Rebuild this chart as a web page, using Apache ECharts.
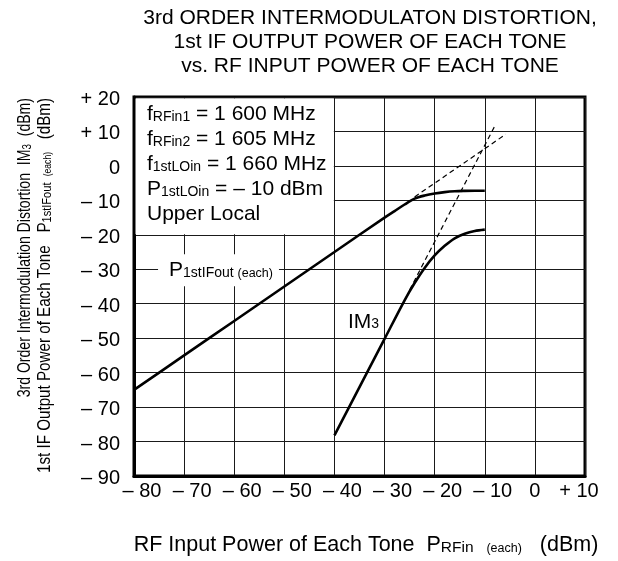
<!DOCTYPE html>
<html><head><meta charset="utf-8">
<script src="https://cdn.jsdelivr.net/npm/echarts/dist/echarts.min.js"></script>
<style>html,body{margin:0;padding:0;background:#fff}#c{width:618px;height:561px}</style>
</head><body><div id="c"></div>
<script>
// ---------- data ----------
const titleLines = ['3rd ORDER INTERMODULATON DISTORTION,', '1st IF OUTPUT POWER OF EACH TONE', 'vs. RF INPUT POWER OF EACH TONE'];
const xTickValues = [-80, -70, -60, -50, -40, -30, -20, -10, 0, 10];
const xTickLabels = ['– 80', '– 70', '– 60', '– 50', '– 40', '– 30', '– 20', '– 10', '0', '+ 10'];
const yTickValues = [-90, -80, -70, -60, -50, -40, -30, -20, -10, 0, 10, 20];
const yTickLabels = ['– 90', '– 80', '– 70', '– 60', '– 50', '– 40', '– 30', '– 20', '– 10', '0', '+ 10', '+ 20'];

// P1stIFout (each) vs PRFin (each)
const pOutX = [-80, -70, -60, -50, -40, -30, -28, -26, -24, -22, -20, -18, -16, -14, -12, -10];
const pOutY = [-65, -55, -45, -35, -25, -15, -13.1, -11.2, -9.5, -8.6, -8.0, -7.6, -7.35, -7.25, -7.2, -7.2];
// IM3 vs PRFin (each)
const im3X = [-40, -30, -26, -24, -22, -20, -18, -16, -14, -12, -10];
const im3Y = [-78.2, -50.2, -39.0, -34.0, -29.6, -26.0, -23.2, -21.0, -19.7, -18.9, -18.5];
// extrapolation (dashed) lines
const pExtX = [-24, -5.8];
const pExtY = [-9, 9.2];
const im3ExtX = [-25, -8.1];
const im3ExtY = [-36, 11.3];

// condition box text
const condLines = [
  ['f', 'RFin1', ' = 1 600 MHz'],
  ['f', 'RFin2', ' = 1 605 MHz'],
  ['f', '1stLOin', ' = 1 660 MHz'],
  ['P', '1stLOin', ' = – 10 dBm'],
  ['Upper Local', '', '']
];

// ---------- chart ----------
const FF = 'Liberation Sans, Arial, Helvetica, sans-serif';
const pair = (xs, ys) => xs.map((x, i) => [x, ys[i]]);
const chart = echarts.init(document.getElementById('c'), null, {renderer: 'canvas'});

const option = {
  animation: false,
  backgroundColor: '#fff',
  grid: {left: 134, right: 33, top: 97, bottom: 85, show: true, borderColor: '#000', borderWidth: 3,
         backgroundColor: 'transparent', containLabel: false, outerBoundsMode: 'none'},
  xAxis: {
    type: 'value', min: -80, max: 10, interval: 10,
    axisLine: {show: true, onZero: false, lineStyle: {color: '#000', width: 3}},
    axisTick: {show: false},
    splitLine: {show: true, lineStyle: {color: '#1a1a1a', width: 1}},
    axisLabel: {
      show: true, margin: 5, showMinLabel: true, showMaxLabel: true,
      formatter: v => {
        const i = xTickValues.indexOf(Math.round(v));
        const t = i >= 0 ? xTickLabels[i] : '';
        if (v < 0) return '{n|' + t + '}';
        if (v > 0) return '{p|' + t + '}';
        return '{z|' + t + '}';
      },
      rich: {
        n: {fontSize: 20, fontFamily: FF, color: '#000', padding: [0, 0, 0, 16]},
        p: {fontSize: 20, fontFamily: FF, color: '#000', padding: [0, 12, 0, 0]},
        z: {fontSize: 20, fontFamily: FF, color: '#000'}
      }
    }
  },
  yAxis: {
    type: 'value', min: -90, max: 20, interval: 10,
    axisLine: {show: true, onZero: false, lineStyle: {color: '#000', width: 3}},
    axisTick: {show: false},
    splitLine: {show: true, lineStyle: {color: '#1a1a1a', width: 1}},
    axisLabel: {
      show: true, margin: 14, showMinLabel: true, showMaxLabel: true,
      formatter: v => {
        const i = yTickValues.indexOf(Math.round(v));
        return '{y|' + (i >= 0 ? yTickLabels[i] : '') + '}';
      },
      rich: {y: {fontSize: 20, fontFamily: FF, color: '#000', padding: [5, 0, 0, 0]}}
    }
  },
  series: [
    {
      type: 'line', name: 'P1stIFout', data: pair(pOutX, pOutY), showSymbol: false, symbol: 'none',
      smooth: 0.3, lineStyle: {color: '#000', width: 2.6}, z: 5,
      markArea: {silent: true, itemStyle: {color: '#fff', borderWidth: 0},
        data: [[{coord: [-79.7, 19.56]}, {coord: [-40.12, -19.85]}]]}
    },
    {
      type: 'line', name: 'IM3', data: pair(im3X, im3Y), showSymbol: false, symbol: 'none',
      smooth: 0.3, lineStyle: {color: '#000', width: 2.6}, z: 5
    },
    {
      type: 'line', name: 'Pext', data: pair(pExtX, pExtY), showSymbol: false, symbol: 'none',
      lineStyle: {color: '#000', width: 1.2, type: [5, 3.5]}, z: 4
    },
    {
      type: 'line', name: 'IM3ext', data: pair(im3ExtX, im3ExtY), showSymbol: false, symbol: 'none',
      lineStyle: {color: '#000', width: 1.2, type: [5, 3.5]}, z: 4
    }
  ]
};
chart.setOption(option);

const px = (x, y) => chart.convertToPixel({gridIndex: 0}, [x, y]);
// subscripts: centred token shifted down by top padding so its baseline sits just below the main baseline
const mainRich = (fs, sub, sub2) => ({
  m: {fontSize: fs, fontFamily: FF, color: '#000', lineHeight: fs + 3},
  s: {fontSize: sub, fontFamily: FF, color: '#000', lineHeight: sub + 1, verticalAlign: 'middle',
      padding: [Math.round((fs - sub) * 0.75), 0, 0, 0]},
  e: {fontSize: sub2, fontFamily: FF, color: '#000', lineHeight: sub2 + 1, verticalAlign: 'middle',
      padding: [Math.round((fs - sub2) * 0.75), 0, 0, 0]}
});

const graphics = [];
// title
titleLines.forEach((t, i) => {
  graphics.push({type: 'text', x: 370, y: 18.5 + 23.7 * i, z: 100,
    style: {text: t, fontSize: 21, fontFamily: FF, fill: '#000', align: 'center', verticalAlign: 'middle'}});
});
// condition box text
const boxTop = px(-80, 20);
condLines.forEach((l, i) => {
  let txt = '{m|' + l[0] + '}';
  if (l[1]) txt += '{s|' + l[1] + '}';
  if (l[2]) txt += '{m|' + l[2] + '}';
  graphics.push({type: 'text', x: boxTop[0] + 13, y: boxTop[1] + 17.5 + 25 * i, z: 100,
    style: {text: txt, rich: mainRich(21, 14, 12), align: 'left', verticalAlign: 'middle'}});
});
// curve labels
const pLab = px(-75.2, -30);
graphics.push({type: 'text', x: pLab[0], y: pLab[1] + 1, z: 100,
  style: {text: '{m|P}{s|1stIFout}{s| }{e|(each)}', rich: mainRich(21, 14, 12.5), align: 'left', verticalAlign: 'middle',
    backgroundColor: '#fff', padding: [4, 6, 4, 11]}});
const imLab = px(-37.3, -45.3);
graphics.push({type: 'text', x: imLab[0], y: imLab[1], z: 100,
  style: {text: '{m|IM}{s|3}', rich: mainRich(21, 14, 12), align: 'left', verticalAlign: 'middle'}});
// x axis name
graphics.push({type: 'text', x: 366, y: 545, z: 100,
  style: {text: '{m|RF Input Power of Each Tone  P}{s|RFin}{s|   }{e|(each)}{m|   (dBm)}', rich: mainRich(21.5, 15.5, 12.5),
    align: 'center', verticalAlign: 'middle'}});
// y axis names (condensed)
graphics.push({type: 'text', x: 25, y: 98, rotation: Math.PI / 2, scaleX: 0.76, z: 100,
  style: {text: '{m|3rd Order Intermodulation Distortion  IM}{s|3}{m|  (dBm)}', rich: mainRich(18.5, 13, 10.5),
    align: 'right', verticalAlign: 'middle'}});
graphics.push({type: 'text', x: 45, y: 98, rotation: Math.PI / 2, scaleX: 0.82, z: 100,
  style: {text: '{m|1st IF Output Power of Each Tone   P}{s|1stIFout}{s|  }{e|(each)}{m|   (dBm)}', rich: mainRich(18.5, 13.5, 10.5),
    align: 'right', verticalAlign: 'middle'}});

chart.setOption({graphic: graphics});
</script></body></html>
